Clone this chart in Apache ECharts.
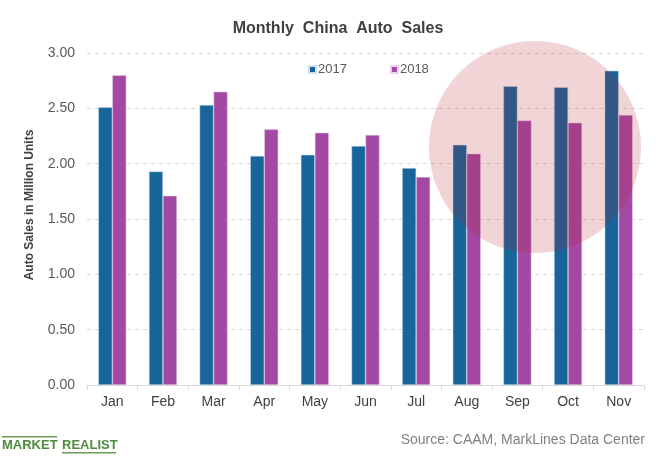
<!DOCTYPE html>
<html>
<head>
<meta charset="utf-8">
<script src="https://cdn.jsdelivr.net/npm/echarts@6/dist/echarts.min.js"></script>
<style>html,body{margin:0;padding:0;background:#fff}#c{width:660px;height:471px}</style>
</head>
<body>
<div id="c"></div>
<script>
var months = ['Jan','Feb','Mar','Apr','May','Jun','Jul','Aug','Sep','Oct','Nov'];
var sales2017 = [2.51, 1.93, 2.53, 2.07, 2.08, 2.16, 1.96, 2.17, 2.70, 2.69, 2.84];
var sales2018 = [2.80, 1.71, 2.65, 2.31, 2.28, 2.26, 1.88, 2.09, 2.39, 2.37, 2.44];
var yTicks = [0, 0.5, 1, 1.5, 2, 2.5, 3];

var chart = echarts.init(document.getElementById('c'), null, {renderer: 'canvas'});
var font = 'Liberation Sans, Arial, sans-serif';
chart.setOption({
  animation: false,
  backgroundColor: '#ffffff',
  title: {
    text: 'Monthly  China  Auto  Sales',
    left: 333, top: 16, textAlign: 'center',
    textStyle: {fontFamily: font, fontSize: 16, fontWeight: 'bold', color: '#404040'}
  },
  legend: {
    data: ['2017', '2018'],
    left: 303, top: 58,
    itemWidth: 7, itemHeight: 7, itemGap: 43,
    icon: 'rect',
    textStyle: {fontFamily: font, fontSize: 13, color: '#595959', padding: [0,0,0,-3]}
  },
  grid: {left: 87, right: 16, top: 53, bottom: 86, containLabel: false},
  xAxis: {
    type: 'category', data: months,
    axisLine: {lineStyle: {color: '#d9d9d9'}},
    axisTick: {show: true, length: 5, lineStyle: {color: '#d9d9d9'}},
    axisLabel: {fontFamily: font, fontSize: 14, color: '#404040', margin: 10}
  },
  yAxis: {
    type: 'value', min: 0, max: 3, interval: 0.5,
    axisLabel: {fontFamily: font, fontSize: 14, color: '#595959', margin: 12,
      formatter: function (v) { return v.toFixed(2); }},
    splitLine: {lineStyle: {color: '#d9d9d9', type: [4, 4]}},
    axisLine: {show: false}, axisTick: {show: false}
  },
  series: [
    {name: '2017', type: 'bar', data: sales2017, barWidth: 14, barGap: '0%',
     itemStyle: {color: '#17659a', borderColor: '#cfe0ee', borderWidth: 0.5}},
    {name: '2018', type: 'bar', data: sales2018, barWidth: 14,
     itemStyle: {color: '#a349a4', borderColor: '#ecd3ec', borderWidth: 0.5}}
  ],
  graphic: [
    {type: 'circle', shape: {cx: 535, cy: 147, r: 106}, z: 100,
     style: {fill: 'rgba(176,28,39,0.19)'}},
    {type: 'text', x: 30, y: 205, rotation: Math.PI / 2, z: 10,
     style: {text: 'Auto Sales in Million Units', font: 'bold 12px ' + font, fill: '#404040',
       textAlign: 'center', textVerticalAlign: 'middle'}},
    {type: 'text', x: 645, y: 440, z: 10,
     style: {text: 'Source: CAAM, MarkLines Data Center', font: '14px ' + font, fill: '#7f7f7f',
       textAlign: 'right', textVerticalAlign: 'middle'}},
    {type: 'text', x: 2, y: 445, z: 10,
     style: {text: 'MARKET', font: 'bold 13px ' + font, fill: '#4f8a3f',
       textAlign: 'left', textVerticalAlign: 'middle'}},
    {type: 'text', x: 62, y: 445, z: 10,
     style: {text: 'REALIST', font: 'bold 13px ' + font, fill: '#4f8a3f',
       textAlign: 'left', textVerticalAlign: 'middle'}},
    {type: 'rect', shape: {x: 2, y: 436, width: 55, height: 1.5}, z: 10, style: {fill: '#6a9a5a'}},
    {type: 'rect', shape: {x: 62, y: 452, width: 54, height: 1.5}, z: 10, style: {fill: '#6a9a5a'}}
  ]
});
</script>
</body>
</html>
